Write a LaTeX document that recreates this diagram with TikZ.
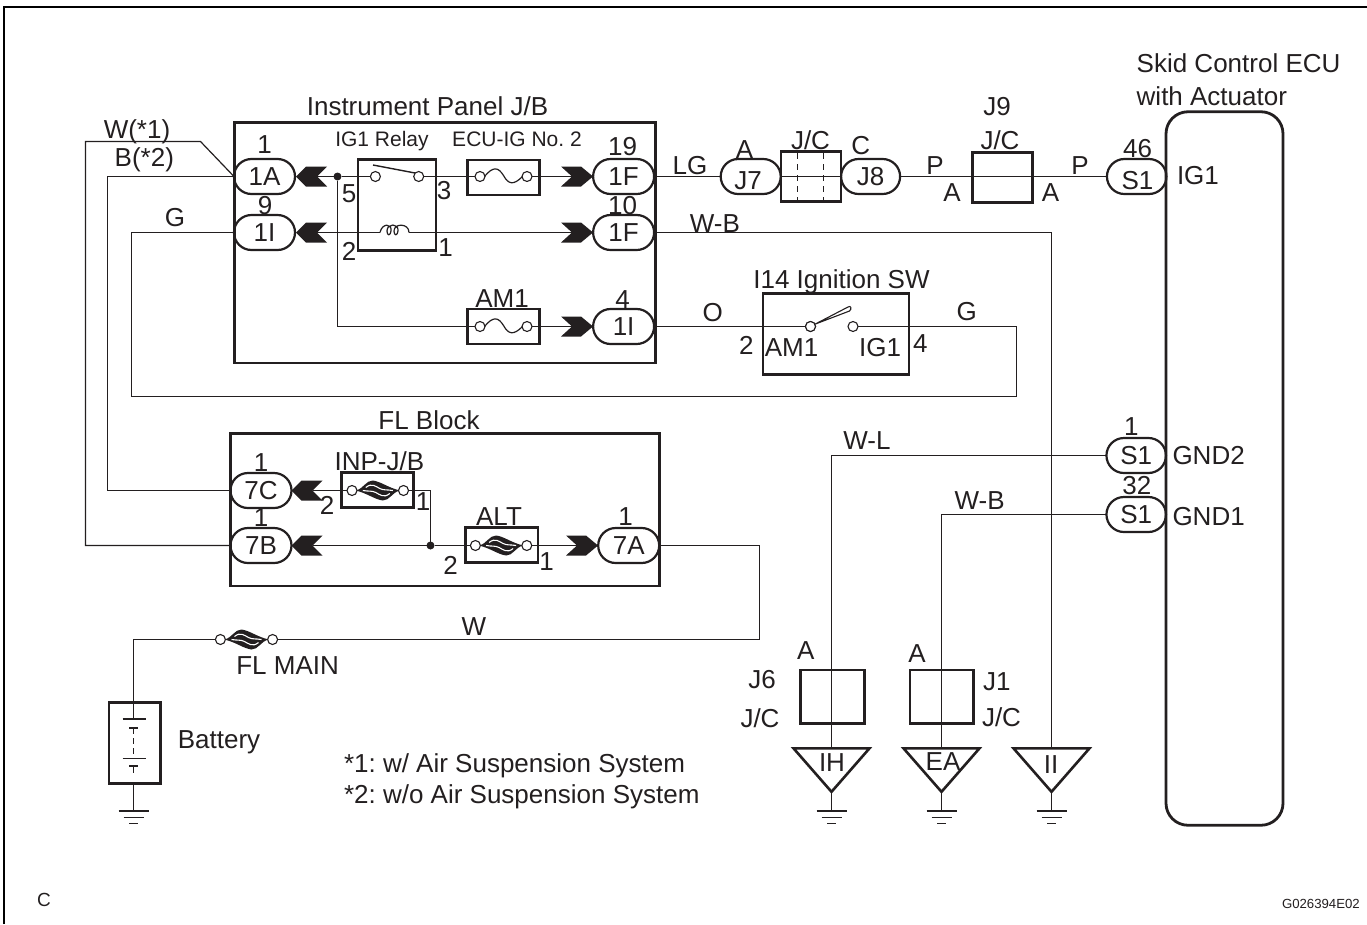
\documentclass[tikz,border=0pt]{standalone}
\usepackage{fontspec}
\setmainfont{Liberation Sans}
\usepackage{tikz}
\usetikzlibrary{shapes.misc}
\frenchspacing
\definecolor{ink}{HTML}{231F20}
\newcommand{\drawPinLeft}[2]{\fill [ink, shift={#1}] (0,0) -- (10,-10) -- (31,-10) -- (21,0) -- (31,10) -- (10,10) -- cycle; \path [shift={#1}] (21,0) coordinate (#2)}
\newcommand{\drawPinRight}[2]{\fill [ink, shift={#1}] (0,0) -- (-12,-10) -- (-32,-10) -- (-21,0) -- (-32,10) -- (-12,10) -- cycle; \path [shift={#1}] (-21,0) coordinate (#2)}
\newcommand{\drawFuseWave}[1]{\draw [wire, shift={#1}] (-19,0) .. controls (-10,-11) and (-5,-9) .. (0,-1) .. controls (5,8) and (10,9) .. (19,0)}
\newcommand{\drawFuseSlow}[1]{\fill [ink, shift={#1}] (-22,0) .. controls (-14,-2) and (-12,-10) .. (-5,-10) .. controls (3,-9) and (10,-3) .. (22,0) .. controls (14,2) and (12,10) .. (5,10) .. controls (-3,9) and (-10,3) .. (-22,0) -- cycle;
    \draw [white, line width=1.1pt, shift={#1}] (-12,-3) .. controls (-6,-8) and (-2,-4) .. (2,-2) .. controls (6,0) and (9,-1) .. (15,0) (-15,0) .. controls (-9,1) and (-6,0) .. (-2,2) .. controls (2,4) and (6,8) .. (12,3)}
\newcommand{\drawEarth}[2]{\draw [ink, line width=2.4pt, shift={#1}] (-15,0) -- (15,0); \draw [ink, line width=1.1pt, shift={#1}] (-10,6.5) -- (10,6.5) (-4.5,12.5) -- (4.5,12.5); \path [shift={#1}] (0,0) coordinate (#2)}
\newcommand{\drawPit}[2]{\draw [ink, line width=2.6pt, line join=miter, shift={#1}] (-38,0) -- (38,0) -- (0,43.5) -- cycle; \path [shift={#1}] (0,0) coordinate (#2) (0,43.5) coordinate (#2tip)}
\tikzset{
    wire/.style={ink, line width=1.2pt},
    box/.style={draw=ink, line width=2.8pt, rectangle, inner sep=0pt, outer sep=0pt},
    oval/.style={draw=ink, line width=2.2pt, rounded rectangle, minimum height=35pt, inner sep=0pt, outer sep=0pt, font=\fontsize{26}{28}\selectfont, text=ink},
    tag/.style={inner sep=0pt, outer sep=0pt, text=ink, font=\fontsize{26}{28}\selectfont},
    smalltag/.style={inner sep=0pt, outer sep=0pt, text=ink, font=\fontsize{21}{24}\selectfont},
    contact/.style={circle, draw=ink, fill=white, line width=1.1pt, minimum size=10pt, inner sep=0pt, outer sep=0pt},
    joint/.style={circle, fill=ink, minimum size=8pt, inner sep=0pt, outer sep=0pt}
}
\begin{document}
\begin{tikzpicture}[x=1pt, y=-1pt]
    \useasboundingbox (0,0) rectangle (1367,924);
    \draw [black, line width=2pt] (4,924) -- (4,7) -- (1367,7);

    %for instrument panel
    \node [box, minimum width=421pt, minimum height=240.5pt] (panel) at (444.6,242.8) {};
    \node [tag] (panelName) at (427.5,106) {Instrument Panel J/B};
    \node [oval, minimum width=61pt] (con1A) at (264.5,176.5) {1A};
    \node [oval, minimum width=61pt] (con1Ig) at (264.5,232.5) {1I};
    \node [oval, minimum width=61pt] (con19) at (623.6,176.5) {1F};
    \node [oval, minimum width=61pt] (con10) at (623.6,232.5) {1F};
    \node [oval, minimum width=61pt] (con4) at (623.6,326.5) {1I};
    \node [tag] (num1A) at (264.5,145) {1};
    \node [tag] (num9) at (265,206) {9};
    \node [tag] (num19) at (622.7,147) {19};
    \node [tag] (num10) at (622.7,206) {10};
    \node [tag] (num4) at (622.7,300) {4};
    \drawPinLeft{(296,176.5)}{pinA};
    \drawPinLeft{(296,232.5)}{pinG};
    \drawPinRight{(593,176.5)}{pin19};
    \drawPinRight{(593,232.5)}{pin10};
    \drawPinRight{(593,326.5)}{pin4};

    %for relay
    \node [box, minimum width=78pt, minimum height=91pt] (relay) at (397,204.7) {};
    \node [smalltag] (relayName) at (382,141) {IG1 Relay};
    \node [contact] (relay5) at (375.4,176.5) {};
    \node [contact] (relay3) at (418.7,176.5) {};
    \node [joint] (jointA) at (337.5,176.5) {};
    \draw [ink, line width=1.4pt] (373,165) -- (415,173);
    \node [tag] (num5) at (349,194) {5};
    \node [tag] (num3) at (444,191) {3};
    \node [tag] (num2) at (349,251.5) {2};
    \node [tag] (num1) at (445.5,248) {1};
    \coordinate (coilL) at (380,232.5);
    \coordinate (coilR) at (409,232.5);
    \draw [wire] (coilL) .. controls (382,223) and (392,223) .. (391,231) .. controls (390.5,236) and (387,236) .. (387,231) .. controls (387,223) and (399,223) .. (398,231) .. controls (397.5,236) and (394,236) .. (394,231) .. controls (394,223) and (409,223) .. (coilR);

    %for ECU-IG fuse
    \node [box, minimum width=72pt, minimum height=35pt] (fuseIG) at (503.3,177.5) {};
    \node [smalltag] (fuseIGName) at (517,139.3) {ECU-IG No. 2};
    \node [contact] (fuseIGa) at (480,176.5) {};
    \node [contact] (fuseIGb) at (527,176.5) {};
    \drawFuseWave{(503.5,176.5)};

    %for AM1 fuse
    \node [box, minimum width=72pt, minimum height=35pt] (fuseAM) at (503.3,326.5) {};
    \node [tag] (fuseAMName) at (502,298.3) {AM1};
    \node [contact] (fuseAMa) at (480,326.5) {};
    \node [contact] (fuseAMb) at (527,326.5) {};
    \drawFuseWave{(503.5,326.5)};

    \draw [wire] (pinA) -- (jointA) -- (relay5);
    \draw [wire] (relay3) -- (fuseIGa);
    \draw [wire] (fuseIGb) -- (pin19);
    \draw [wire] (pinG) -- (coilL);
    \draw [wire] (coilR) -- (pin10);
    \draw [wire] (jointA) |- (fuseAMa);
    \draw [wire] (fuseAMb) -- (pin4);

    %for wires on the left
    \node [tag] (tagW) at (137,131.7) {W(*1)};
    \node [tag] (tagB) at (144.3,160) {B(*2)};
    \node [tag] (tagG) at (175,218) {G};

    %for FL block
    \node [box, minimum width=429pt, minimum height=152.7pt] (block) at (444.8,509.7) {};
    \node [tag] (blockName) at (429,420) {FL Block};
    \node [oval, minimum width=61pt] (con7C) at (261,490.5) {7C};
    \node [oval, minimum width=61pt] (con7B) at (261,545.5) {7B};
    \node [oval, minimum width=61pt] (con7A) at (628.7,545.5) {7A};
    \node [tag] (num7C) at (261,463) {1};
    \node [tag] (num7B) at (261,518) {1};
    \node [tag] (num7A) at (625.7,516.7) {1};
    \drawPinLeft{(291.5,490.5)}{pin7C};
    \drawPinLeft{(291.5,545.5)}{pin7B};
    \drawPinRight{(598,545.5)}{pin7A};

    \node [box, minimum width=71.5pt, minimum height=35pt] (fuseINP) at (377.5,490.2) {};
    \node [tag] (fuseINPName) at (379.3,461) {INP-J/B};
    \drawFuseSlow{(377.8,490.5)};
    \node [contact] (fuseINPa) at (352,490.5) {};
    \node [contact] (fuseINPb) at (403.5,490.5) {};
    \node [tag] (numINP2) at (327,505) {2};
    \node [tag] (numINP1) at (423,501.7) {1};

    \node [box, minimum width=72.5pt, minimum height=35pt] (fuseALT) at (501.7,545.2) {};
    \node [tag] (fuseALTName) at (499,516.7) {ALT};
    \drawFuseSlow{(501.1,545.5)};
    \node [contact] (fuseALTa) at (475.4,545.5) {};
    \node [contact] (fuseALTb) at (526.8,545.5) {};
    \node [tag] (numALT2) at (450.5,565) {2};
    \node [tag] (numALT1) at (546.6,562) {1};
    \node [joint] (jointB) at (430.5,545.5) {};

    \draw [wire] (pin7C) -- (fuseINPa);
    \draw [wire] (fuseINPb) -| (jointB);
    \draw [wire] (pin7B) -- (jointB) -- (fuseALTa);
    \draw [wire] (fuseALTb) -- (pin7A);

    %for left side wires
    \draw [wire] (con1A.west) -- (200.5,141.5) -- (85.5,141.5) |- (con7B.west);
    \draw [wire] (con1A.west) -- (107.5,176.5) |- (con7C.west);

    %for FL main and battery
    \node [tag] (tagWmain) at (474,626.7) {W};
    \node [tag] (fuseMainName) at (287.6,666) {FL MAIN};
    \drawFuseSlow{(246.5,639.5)};
    \node [contact] (fuseMaina) at (220.4,639.5) {};
    \node [contact] (fuseMainb) at (272.6,639.5) {};
    \draw [wire] (con7A.east) -- (759.5,545.5) -- (759.5,639.5) -- (fuseMainb);

    \node [box, minimum width=51.4pt, minimum height=81pt] (battery) at (134.6,742.8) {};
    \node [tag] (batteryName) at (219,742) {Battery};
    \coordinate (batteryCell) at (133.5,719);
    \draw [wire] (fuseMaina) -| (batteryCell);
    \draw [wire] (122.7,719) -- (146.4,719);
    \draw [ink, line width=2.4pt] (129,727.7) -- (138,727.7);
    \draw [wire, dashed, dash pattern=on 6pt off 4pt] (133.5,728) -- (133.5,758.3);
    \draw [wire] (122.7,758.3) -- (146.4,758.3);
    \draw [ink, line width=2.4pt] (129,766) -- (138,766);
    \draw [wire] (133.5,766) -- (133.5,773);
    \drawEarth{(133.5,810.7)}{earthBat};
    \draw [wire] (battery.south -| earthBat) -- (earthBat);

    %for notes
    \node [tag, anchor=west] (noteOne) at (344,766) {*1: w/ Air Suspension System};
    \node [tag, anchor=west] (noteTwo) at (344,797) {*2: w/o Air Suspension System};

    %for junction connectors on top
    \node [tag] (tagLG) at (690,166) {LG};
    \node [box, minimum width=60pt, minimum height=50pt] (jcTop) at (811,176.7) {};
    \draw [wire, dashed, dash pattern=on 6pt off 5pt] (797.5,153) -- (797.5,200.5) (823.5,153) -- (823.5,200.5);
    \node [tag] (jcTopName) at (810.5,140) {J/C};
    \node [oval, minimum width=60pt] (conJ7) at (750.7,176.5) {};
    \node [tag] (textJ7) at (748,180.5) {J7};
    \node [oval, minimum width=59pt] (conJ8) at (870.6,176.5) {J8};
    \node [tag] (tagJ7) at (744.5,150) {A};
    \node [tag] (tagJ8) at (860.7,145.7) {C};
    \node [tag] (tagP1) at (935,166) {P};
    \node [tag] (tagA1) at (952,193) {A};
    \node [box, minimum width=60pt, minimum height=50pt] (jcNine) at (1002.6,177.3) {};
    \node [tag] (jcNineName) at (1000,140) {J/C};
    \node [tag] (jcNineId) at (997,106.7) {J9};
    \node [tag] (tagA2) at (1050.5,193) {A};
    \node [tag] (tagP2) at (1080,166) {P};

    %for skid control ECU
    \node [draw=ink, line width=2.8pt, rectangle, rounded corners=22pt, minimum width=117pt, minimum height=713.5pt, inner sep=0pt, outer sep=0pt] (ecu) at (1224.5,468.5) {};
    \node [tag, anchor=west] (ecuName) at (1136.7,63) {Skid Control ECU};
    \node [tag, anchor=west] (ecuNameTwo) at (1136.7,96) {with Actuator};
    \node [oval, minimum width=59.5pt] (conIG) at (1136.7,176.5) {};
    \node [tag] (textIG) at (1137.5,180.7) {S1};
    \node [tag] (num46) at (1137.5,149) {46};
    \node [tag, anchor=west] (pinIG) at (1177,176) {IG1};
    \node [oval, minimum width=59.5pt] (conGNDtwo) at (1136.2,455.5) {S1};
    \node [tag] (numGNDtwo) at (1131.4,426.7) {1};
    \node [tag, anchor=west] (pinGNDtwo) at (1172.5,456) {GND2};
    \node [oval, minimum width=59.5pt] (conGNDone) at (1136.2,514.5) {S1};
    \node [tag] (numGNDone) at (1136.8,486) {32};
    \node [tag, anchor=west] (pinGNDone) at (1172.5,517) {GND1};

    \draw [wire] (con19.east) -- (conJ7.west);
    \draw [wire] (conJ7.east) -- (conJ8.west);
    \draw [wire] (conJ8.east) -- (conIG.west);

    %for ignition switch
    \node [box, minimum width=146pt, minimum height=81pt] (ignition) at (836,333.8) {};
    \node [tag] (ignitionName) at (841.5,282) {I14 Ignition SW};
    \node [contact] (swAM) at (810.5,326.5) {};
    \node [contact] (swIG) at (853,326.5) {};
    \draw [ink, line width=1.1pt, fill=white] (swAM) -- (848,307) .. controls (851,305) and (852,309) .. (849.5,311) -- cycle;
    \node [contact] (swHinge) at (swAM) {};
    \node [tag] (tagO) at (712.8,312.7) {O};
    \node [tag] (num2sw) at (746.4,345) {2};
    \node [tag] (nameAM) at (791.5,348) {AM1};
    \node [tag] (nameIG) at (880,348) {IG1};
    \node [tag] (num4sw) at (920.4,344) {4};
    \node [tag] (tagGsw) at (966.7,311.7) {G};
    \draw [wire] (con4.east) -- (swAM);
    \draw [wire] (con1Ig.west) -- (131.5,232.5) -- (131.5,396.5) -- (1016.5,396.5) -- (1016.5,326.5) -- (swIG);

    %for grounds
    \drawPit{(831.5,748.3)}{pitIH};
    \drawPit{(941.5,748.3)}{pitEA};
    \drawPit{(1051.5,748.3)}{pitII};
    \node [tag] (nameIH) at (832,763) {IH};
    \node [tag] (nameEA) at (943,761.7) {EA};
    \node [tag] (nameII) at (1051,765) {II};
    \drawEarth{(831.5,810.7)}{earthIH};
    \drawEarth{(941.5,810.7)}{earthEA};
    \drawEarth{(1051.5,810.7)}{earthII};
    \draw [wire] (pitIHtip) -- (earthIH);
    \draw [wire] (pitEAtip) -- (earthEA);
    \draw [wire] (pitIItip) -- (earthII);

    \node [box, minimum width=64pt, minimum height=53.3pt] (jcSix) at (832.4,696.7) {};
    \node [box, minimum width=63.6pt, minimum height=53.3pt] (jcOne) at (941.8,696.7) {};
    \node [tag] (tagJ6) at (805.7,650.7) {A};
    \node [tag] (tagJ1) at (917,654) {A};
    \node [tag] (jcSixId) at (762,680) {J6};
    \node [tag] (jcSixName) at (760,718) {J/C};
    \node [tag, anchor=west] (jcOneId) at (983,681.7) {J1};
    \node [tag, anchor=west] (jcOneName) at (982,717) {J/C};

    \node [tag] (tagWB) at (714.8,223.3) {W-B};
    \draw [wire] (con10.east) -| (pitII);
    \node [tag] (tagWL) at (867,440.7) {W-L};
    \draw [wire] (conGNDtwo.west) -| (pitIH);
    \node [tag] (tagWBtwo) at (979.6,500.7) {W-B};
    \draw [wire] (conGNDone.west) -| (pitEA);

    \node [inner sep=0pt, text=ink, font=\fontsize{19}{22}\selectfont] (sheetC) at (44,900) {C};
    \node [inner sep=0pt, text=ink, font=\fontsize{13.2}{15}\selectfont, anchor=east] (sheetId) at (1360,904) {G026394E02};
\end{tikzpicture}
\end{document}
